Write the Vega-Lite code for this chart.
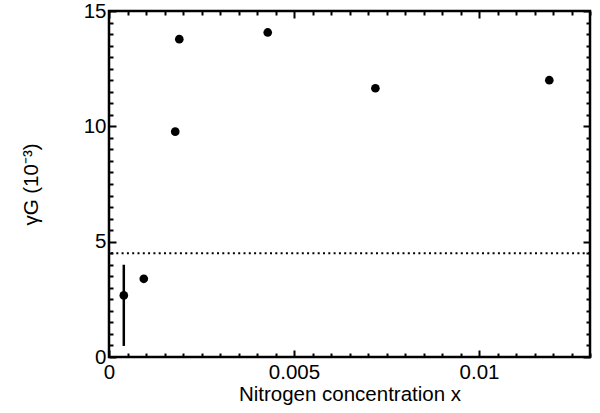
{
  "$schema": "https://vega.github.io/schema/vega-lite/v6.json",
  "width": 481,
  "height": 346,
  "autosize": {"type": "none"},
  "padding": {"left": 109, "top": 11, "right": 10, "bottom": 56},
  "background": "white",
  "config": {
    "view": {"stroke": "black", "strokeWidth": 2.5},
    "axis": {"labelFont": "Liberation Sans", "titleFont": "Liberation Sans", "labelColor": "black", "titleColor": "black", "labelFontSize": 20.5, "titleFontSize": 20.5, "titleFontWeight": "normal", "grid": false, "domain": false, "tickColor": "black", "tickWidth": 2, "tickSize": -7, "labelOverlap": false, "labelFlush": false}
  },
  "datasets": {
    "pts": [
      {"x": 0.0004, "y": 2.67, "lo": 0.48, "hi": 4.0},
      {"x": 0.00094, "y": 3.39},
      {"x": 0.00179, "y": 9.77},
      {"x": 0.0019, "y": 13.78},
      {"x": 0.00429, "y": 14.07},
      {"x": 0.0072, "y": 11.65},
      {"x": 0.0119, "y": 12.0}
    ],
    "ref": [{"y": 4.5}]
  },
  "layer": [
    {
      "data": {"name": "pts"},
      "mark": {"type": "point", "filled": true, "color": "black", "opacity": 1, "size": 75},
      "encoding": {
        "x": {"field": "x", "type": "quantitative", "scale": {"domain": [0, 0.013], "nice": false, "zero": false},
          "axis": {"orient": "bottom", "title": "Nitrogen concentration x", "titlePadding": 2,
            "values": [0,0.0005,0.001,0.0015,0.002,0.0025,0.003,0.0035,0.004,0.0045,0.005,0.0055,0.006,0.0065,0.007,0.0075,0.008,0.0085,0.009,0.0095,0.01,0.0105,0.011,0.0115,0.012,0.0125,0.013],
            "tickDash": {"condition": {"test": "abs(datum.value/0.005 - round(datum.value/0.005)) < 1e-6", "value": [20, 1]}, "value": [4, 30]},
            "labelPadding": 12,
            "labelExpr": "abs(datum.value/0.005 - round(datum.value/0.005)) < 1e-6 ? format(datum.value, '.3~f') : ''"}},
        "y": {"field": "y", "type": "quantitative", "scale": {"domain": [0, 15], "nice": false},
          "axis": {"orient": "left", "title": "γG (10⁻³)", "titlePadding": 42,
            "values": [0,0.5,1,1.5,2,2.5,3,3.5,4,4.5,5,5.5,6,6.5,7,7.5,8,8.5,9,9.5,10,10.5,11,11.5,12,12.5,13,13.5,14,14.5,15],
            "tickDash": {"condition": {"test": "abs(datum.value/5 - round(datum.value/5)) < 1e-6", "value": [20, 1]}, "value": [4, 30]},
            "labelPadding": 10,
            "labelExpr": "abs(datum.value/5 - round(datum.value/5)) < 1e-6 ? format(datum.value, 'd') : ''"}}
      }
    },
    {
      "data": {"name": "pts"},
      "transform": [{"filter": "isValid(datum.hi)"}],
      "mark": {"type": "rule", "color": "black", "strokeWidth": 2.5},
      "encoding": {
        "x": {"field": "x", "type": "quantitative",
          "axis": {"orient": "top", "title": null, "labels": false,
            "values": [0,0.0005,0.001,0.0015,0.002,0.0025,0.003,0.0035,0.004,0.0045,0.005,0.0055,0.006,0.0065,0.007,0.0075,0.008,0.0085,0.009,0.0095,0.01,0.0105,0.011,0.0115,0.012,0.0125,0.013],
            "tickDash": {"condition": {"test": "abs(datum.value/0.005 - round(datum.value/0.005)) < 1e-6", "value": [20, 1]}, "value": [4, 30]}}},
        "y": {"field": "lo", "type": "quantitative",
          "axis": {"orient": "right", "title": null, "labels": false,
            "values": [0,0.5,1,1.5,2,2.5,3,3.5,4,4.5,5,5.5,6,6.5,7,7.5,8,8.5,9,9.5,10,10.5,11,11.5,12,12.5,13,13.5,14,14.5,15],
            "tickDash": {"condition": {"test": "abs(datum.value/5 - round(datum.value/5)) < 1e-6", "value": [20, 1]}, "value": [4, 30]}}},
        "y2": {"field": "hi"}
      }
    },
    {
      "data": {"name": "ref"},
      "mark": {"type": "rule", "color": "black", "strokeWidth": 2, "strokeDash": [2, 3.3]},
      "encoding": {
        "y": {"field": "y", "type": "quantitative", "axis": null}
      }
    }
  ],
  "resolve": {"axis": {"x": "independent", "y": "independent"}}
}
